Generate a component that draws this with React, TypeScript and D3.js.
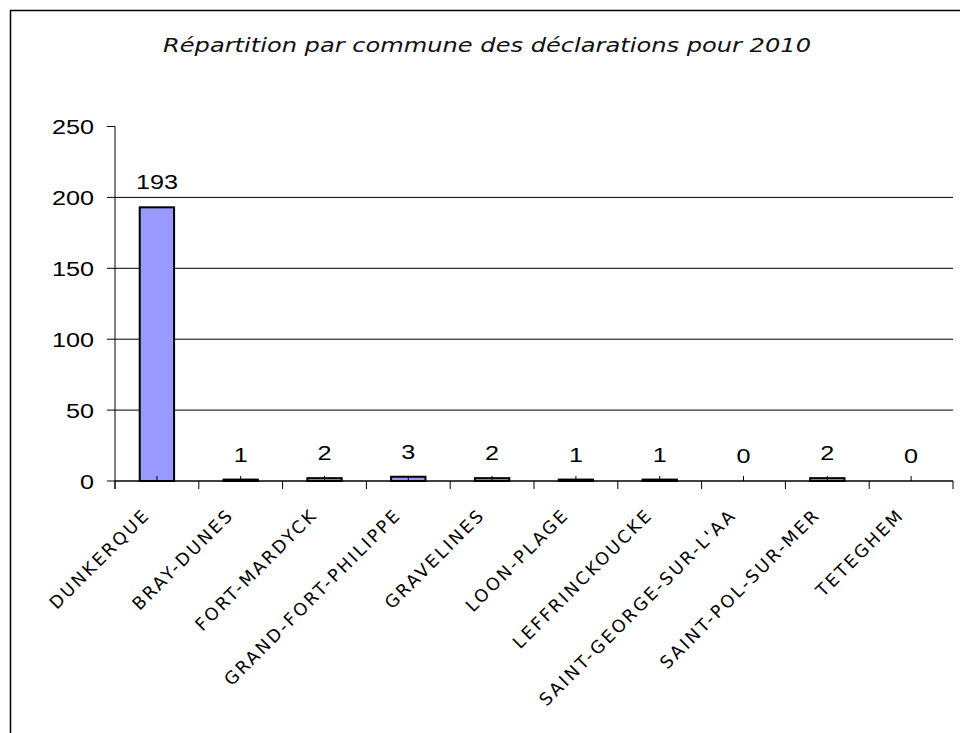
import React from 'react';
import * as d3 from 'd3';

const WIDTH = 960;
const HEIGHT = 733;

const communes = [
    'DUNKERQUE',
    'BRAY-DUNES',
    'FORT-MARDYCK',
    'GRAND-FORT-PHILIPPE',
    'GRAVELINES',
    'LOON-PLAGE',
    'LEFFRINCKOUCKE',
    "SAINT-GEORGE-SUR-L'AA",
    'SAINT-POL-SUR-MER',
    'TETEGHEM',
];
const declarations = [193, 1, 2, 3, 2, 1, 1, 0, 2, 0];
const yTicks = [0, 50, 100, 150, 200, 250];
const chartTitle = 'Répartition par commune des déclarations pour 2010';

const margin = {top: 126.5, right: 7, bottom: 252, left: 115};
// the original text renders wider than the fonts we have
const SX_TITLE = 1.27;
const SX_NUM = 1.2;

const App = () => {
    const x = d3.scaleBand<string>()
        .domain(communes)
        .range([margin.left, WIDTH - margin.right])
        .paddingInner(0)
        .paddingOuter(0);
    const y = d3.scaleLinear()
        .domain([0, 250])
        .range([HEIGHT - margin.bottom, margin.top]);

    const bw = x.bandwidth();
    const barW = bw * 0.41;
    const y0 = y(0);

    return (
        <svg width={WIDTH} height={HEIGHT}
             style={{position: 'absolute', top: 0, left: 0, background: '#fff'}}>
            <rect x={10.5} y={10.5} width={1200} height={1200} fill="none" stroke="#000" strokeWidth={1.5}/>

            <text transform={`translate(487,52) scale(${SX_TITLE},1)`} textAnchor="middle" fontFamily="DejaVu Sans"
                  fontStyle="italic" fontSize={19} fill="#111">{chartTitle}</text>

            {/* gridlines */}
            {yTicks.filter(t => t > 0 && t < 250).map(t => (
                <line key={t} x1={margin.left} x2={WIDTH - margin.right} y1={y(t)} y2={y(t)}
                      stroke="#000" strokeWidth={1}/>
            ))}

            {/* bars */}
            {communes.map((c, i) => {
                const cx = (x(c) ?? 0) + bw / 2;
                const v = declarations[i];
                return (
                    <g key={c}>
                        {v > 0 && (
                            <rect x={cx - barW / 2} y={y(v)} width={barW} height={y0 - y(v)}
                                  fill="#9999FF" stroke="#000" strokeWidth={2}/>
                        )}
                        <line x1={cx} x2={cx} y1={y0} y2={y0 - 5} stroke="#000" strokeWidth={1}/>
                        <text transform={`translate(${cx},${y(v) - 18}) scale(${SX_NUM},1)`} textAnchor="middle"
                              fontFamily="Liberation Sans" fontSize={21} fill="#000">{v}</text>
                    </g>
                );
            })}

            {/* y axis */}
            <line x1={margin.left} x2={margin.left} y1={y(250)} y2={y0 + 8} stroke="#000" strokeWidth={1}/>
            {yTicks.map(t => (
                <g key={t}>
                    <line x1={margin.left - 8} x2={margin.left} y1={y(t)} y2={y(t)} stroke="#000" strokeWidth={1}/>
                    <text transform={`translate(94,${y(t)}) scale(${SX_NUM},1)`} dy="0.36em" textAnchor="end"
                          fontFamily="Liberation Sans" fontSize={21} fill="#000">{t}</text>
                </g>
            ))}

            {/* x axis */}
            <line x1={margin.left} x2={WIDTH - margin.right} y1={y0} y2={y0} stroke="#000" strokeWidth={1.5}/>
            {[...communes.map(c => x(c) ?? 0), WIDTH - margin.right].map((bx, i) => (
                <line key={i} x1={bx} x2={bx} y1={y0} y2={y0 + 8} stroke="#000" strokeWidth={1}/>
            ))}
            {communes.map(c => {
                const cx = (x(c) ?? 0) + bw / 2;
                return (
                    <text key={c} transform={`translate(${cx - 6},${y0 + 35}) rotate(-45)`}
                          textAnchor="end" fontFamily="DejaVu Sans" fontSize={17.5} letterSpacing={2.4}
                          fill="#000">{c}</text>
                );
            })}
        </svg>
    );
};

export default App;
